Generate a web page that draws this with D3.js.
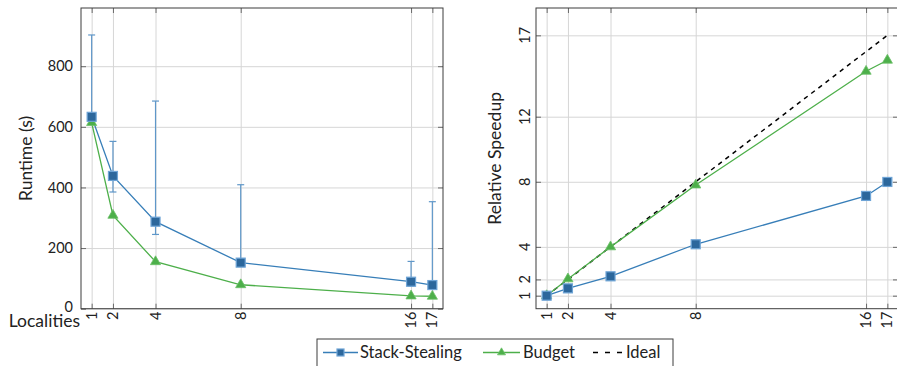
<!DOCTYPE html>
<html><head><meta charset="utf-8">
<script src="https://cdn.jsdelivr.net/npm/d3@7"></script>
<style>
body{margin:0;background:#fff;}
svg{display:block;font-family:Lato,"Open Sans",sans-serif;}
</style></head><body>
<svg id="chart" width="897" height="366"></svg>
<script>
// Scaling results: runtime and relative speedup per number of localities
const localities = [1, 2, 4, 8, 16, 17];
const stackRuntime = [633, 438, 287, 152, 89, 78];
const stackRuntimeLow = [622, 385, 245, 145, 75, 72];
const stackRuntimeHigh = [903, 552, 685, 409, 156, 353];
const budgetRuntime = [614, 308, 155, 79, 42, 41];
const stackSpeedup = [1, 1.45, 2.19, 4.16, 7.13, 7.99];
const budgetSpeedup = [1, 2.03, 4.0, 7.8, 14.79, 15.47];
const idealX = [1, 17];
const idealSpeedup = [1, 17];
const runtimeTicks = [0, 200, 400, 600, 800];
const speedupTicks = [1, 2, 4, 8, 12, 17];
const seriesNames = ["Stack-Stealing", "Budget", "Ideal"];

const BLUE = "#377eb8", BLUE_FILL = "#2c679c", BLUE_ERR = "#5f97c9";
const GREEN = "#4daf4a";
const GRID = "#d6d6d6", FRAME = "#3c3c3c", TICK = "#6a6a6a";
const TICK_FONT = 14.5, LABEL_FONT = 17.5, LEGEND_FONT = 16.5;

const svg = d3.select("#chart");
const plotTop = 8, plotBottom = 308.7;

function panel(x0, x1, yDomain, yTicks) {
  const g = svg.append("g");
  const x = d3.scaleLinear().domain([0.5, 17.5]).range([x0, x1]);
  const y = d3.scaleLinear().domain(yDomain).range([plotBottom, plotTop]);
  const h = plotBottom - plotTop, w = x1 - x0;

  // grid
  g.append("g").attr("transform", `translate(0,${plotBottom})`)
    .call(d3.axisBottom(x).tickValues(localities).tickSize(-h).tickFormat(""))
    .call(a => a.select(".domain").remove())
    .call(a => a.selectAll("line").attr("stroke", GRID).attr("stroke-width", 1));
  g.append("g").attr("transform", `translate(${x0},0)`)
    .call(d3.axisLeft(y).tickValues(yTicks).tickSize(-w).tickFormat(""))
    .call(a => a.select(".domain").remove())
    .call(a => a.selectAll("line").attr("stroke", GRID).attr("stroke-width", 1));

  // inward tick marks on all four sides
  const tk = 5;
  const styleTicks = a => { a.select(".domain").remove(); a.selectAll("line").attr("stroke", TICK).attr("stroke-width", 1); };
  g.append("g").attr("transform", `translate(0,${plotBottom})`)
    .call(d3.axisBottom(x).tickValues(localities).tickSize(-tk).tickFormat("")).call(styleTicks);
  g.append("g").attr("transform", `translate(0,${plotTop})`)
    .call(d3.axisTop(x).tickValues(localities).tickSize(-tk).tickFormat("")).call(styleTicks);
  g.append("g").attr("transform", `translate(${x0},0)`)
    .call(d3.axisLeft(y).tickValues(yTicks).tickSize(-tk).tickFormat("")).call(styleTicks);
  g.append("g").attr("transform", `translate(${x1},0)`)
    .call(d3.axisRight(y).tickValues(yTicks).tickSize(-tk).tickFormat("")).call(styleTicks);

  // frame
  g.append("rect").attr("x", x0).attr("y", plotTop).attr("width", w).attr("height", h)
    .attr("fill", "none").attr("stroke", FRAME).attr("stroke-width", 1);

  // rotated x tick labels
  g.append("g").selectAll("text").data(localities).join("text")
    .attr("transform", d => `translate(${x(d)},${plotBottom + 3}) rotate(-90)`)
    .attr("text-anchor", "end").attr("dy", "0.35em")
    .attr("font-size", TICK_FONT).attr("fill", "#222").text(d => d);

  return { g, x, y };
}

function squares(g, pts, size) {
  g.selectAll(null).data(pts).join("rect")
    .attr("x", d => d[0] - size / 2).attr("y", d => d[1] - size / 2)
    .attr("width", size).attr("height", size)
    .attr("fill", BLUE_FILL).attr("stroke", "#6ea4d6").attr("stroke-width", 1.2);
}
function triangles(g, pts, size) {
  const sym = d3.symbol().type(d3.symbolTriangle).size(size);
  g.selectAll(null).data(pts).join("path")
    .attr("transform", d => `translate(${d[0]},${d[1]})`)
    .attr("d", sym).attr("fill", GREEN).attr("stroke", "#6cc069").attr("stroke-width", 0.8);
}

// ---------- left: runtime ----------
const L = panel(81, 443, [0, 992], runtimeTicks);
{
  const { g, x, y } = L;
  g.append("g").selectAll("text").data(runtimeTicks).join("text")
    .attr("x", 73).attr("y", d => y(d) - (d === 0 ? 1.5 : 0)).attr("dy", "0.35em")
    .attr("text-anchor", "end").attr("font-size", TICK_FONT).attr("fill", "#222").text(d => d);
  g.append("text").attr("transform", `translate(32,${(plotTop + plotBottom) / 2}) rotate(-90)`)
    .attr("text-anchor", "middle").attr("font-size", LABEL_FONT).attr("fill", "#222").text("Runtime (s)");
  g.append("text").attr("x", 80).attr("y", 327).attr("text-anchor", "end")
    .attr("font-size", LABEL_FONT).attr("fill", "#222").text("Localities");

  const line = d3.line().x(d => x(d[0])).y(d => y(d[1]));
  const stackPts = localities.map((l, i) => [l, stackRuntime[i]]);
  const budgetPts = localities.map((l, i) => [l, budgetRuntime[i]]);

  // error bars
  const eb = g.append("g").attr("stroke", BLUE_ERR).attr("stroke-width", 1.2);
  localities.forEach((l, i) => {
    eb.append("line").attr("x1", x(l)).attr("x2", x(l)).attr("y1", y(stackRuntimeLow[i])).attr("y2", y(stackRuntimeHigh[i]));
    [stackRuntimeLow[i], stackRuntimeHigh[i]].forEach(v =>
      eb.append("line").attr("x1", x(l) - 3.5).attr("x2", x(l) + 3.5).attr("y1", y(v)).attr("y2", y(v)));
  });

  g.append("path").datum(budgetPts).attr("d", line).attr("fill", "none").attr("stroke", GREEN).attr("stroke-width", 1.3);
  g.append("path").datum(stackPts).attr("d", line).attr("fill", "none").attr("stroke", BLUE).attr("stroke-width", 1.3);
  triangles(g, budgetPts.map(d => [x(d[0]), y(d[1])]), 45);
  squares(g, stackPts.map(d => [x(d[0]), y(d[1])]), 9);
}

// ---------- right: relative speedup ----------
const R = panel(536, 898, [0.2, 18.68], speedupTicks);
{
  const { g, x, y } = R;
  g.append("g").selectAll("text").data(speedupTicks).join("text")
    .attr("transform", d => `translate(530,${y(d)}) rotate(-90)`)
    .attr("text-anchor", "middle").attr("font-size", TICK_FONT).attr("fill", "#222").text(d => d);
  g.append("text").attr("transform", `translate(501,${(plotTop + plotBottom) / 2}) rotate(-90)`)
    .attr("text-anchor", "middle").attr("font-size", LABEL_FONT).attr("fill", "#222").text("Relative Speedup");

  const line = d3.line().x(d => x(d[0])).y(d => y(d[1]));
  const stackPts = localities.map((l, i) => [l, stackSpeedup[i]]);
  const budgetPts = localities.map((l, i) => [l, budgetSpeedup[i]]);
  const idealPts = idealX.map((l, i) => [l, idealSpeedup[i]]);

  g.append("path").datum(idealPts).attr("d", line).attr("fill", "none").attr("stroke", "#000")
    .attr("stroke-width", 1.5).attr("stroke-dasharray", "4.5,4.5");
  g.append("path").datum(budgetPts).attr("d", line).attr("fill", "none").attr("stroke", GREEN).attr("stroke-width", 1.3);
  g.append("path").datum(stackPts).attr("d", line).attr("fill", "none").attr("stroke", BLUE).attr("stroke-width", 1.3);
  triangles(g, budgetPts.map(d => [x(d[0]), y(d[1])]), 45);
  squares(g, stackPts.map(d => [x(d[0]), y(d[1])]), 9);
}

// ---------- legend ----------
{
  const lg = svg.append("g");
  lg.append("rect").attr("x", 317).attr("y", 339).attr("width", 356).attr("height", 40)
    .attr("fill", "#fff").attr("stroke", FRAME).attr("stroke-width", 1);
  const ly = 352.5;
  const entries = [
    { x1: 323, x2: 358, tx: 360 },
    { x1: 483, x2: 520, tx: 523 },
    { x1: 593, x2: 622, tx: 626 }
  ];
  lg.append("line").attr("x1", entries[0].x1).attr("x2", entries[0].x2).attr("y1", ly).attr("y2", ly)
    .attr("stroke", BLUE).attr("stroke-width", 1.3);
  squares(lg, [[(entries[0].x1 + entries[0].x2) / 2, ly]], 7);
  lg.append("line").attr("x1", entries[1].x1).attr("x2", entries[1].x2).attr("y1", ly).attr("y2", ly)
    .attr("stroke", GREEN).attr("stroke-width", 1.3);
  triangles(lg, [[(entries[1].x1 + entries[1].x2) / 2, ly]], 28);
  lg.append("line").attr("x1", entries[2].x1).attr("x2", entries[2].x2).attr("y1", ly).attr("y2", ly)
    .attr("stroke", "#000").attr("stroke-width", 1.5).attr("stroke-dasharray", "5,7");
  lg.selectAll("text.item").data(seriesNames).join("text").attr("class", "item")
    .attr("x", (d, i) => entries[i].tx).attr("y", ly).attr("dy", "0.35em")
    .attr("font-size", LEGEND_FONT).attr("fill", "#222").text(d => d);
}
</script>
</body></html>
